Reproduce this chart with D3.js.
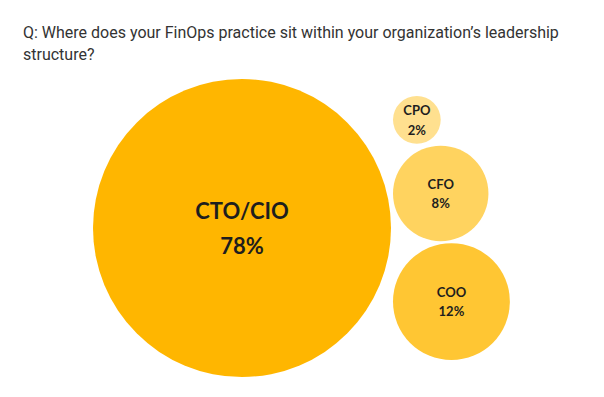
<!DOCTYPE html>
<html>
<head>
<meta charset="utf-8">
<script src="https://cdn.jsdelivr.net/npm/d3@7"></script>
<style>
	body { margin: 0; background: #fff; }
	.title { font-family: Roboto, "Open Sans", sans-serif; font-size: 16px; fill: #333; }
	.label { font-family: Lato, "Noto Sans", sans-serif; font-weight: bold; fill: #1e1e1e; }
</style>
</head>
<body>
<div id="chart"></div>
<script>
var titleLines = ["Q: Where does your FinOps practice sit within your organization\u2019s leadership", "structure?"];
var roles = ["CTO/CIO", "CPO", "CFO", "COO"];
var shares = [78, 2, 8, 12];
var fills = ["#ffb600", "#ffe08f", "#ffd35f", "#ffc633"];

var width = 604;
var height = 397;

var svg = d3.select("#chart")
	.append("svg")
	.attr("width", width)
	.attr("height", height);

svg.append("text")
	.attr("class", "title")
	.attr("x", 23)
	.attr("y", 38)
	.selectAll("tspan")
	.data(titleLines)
	.enter()
	.append("tspan")
	.attr("x", 23)
	.attr("dy", function(d, i) { return i ? 22 : 0; })
	.text(function(d) { return d; });

var rscale = d3.scaleSqrt()
	.domain([0, 78])
	.range([0, 149]);

var gap = 2;
var bigX = 242, bigY = 228;

var nodes = roles.map(function(r, i) {
	return { role: r, value: shares[i], color: fills[i], r: rscale(shares[i]) };
});

// big one on the left, the rest stacked in a column next to it
var big = nodes[0];
big.x = bigX;
big.y = bigY;
var rest = nodes.slice(1);
var stackH = d3.sum(rest, function(d) { return 2 * d.r; }) + gap * (rest.length - 1);
var y0 = bigY - stackH / 2;
rest.forEach(function(d) {
	d.x = big.x + big.r + gap + d.r;
	d.y = y0 + d.r;
	y0 += 2 * d.r + gap;
});

var g = svg.selectAll(".bubble")
	.data(nodes)
	.enter()
	.append("g")
	.attr("class", "bubble")
	.attr("transform", function(d) { return "translate(" + d.x + "," + d.y + ")"; });

g.append("circle")
	.attr("r", function(d) { return d.r; })
	.attr("fill", function(d) { return d.color; });

g.append("text")
	.attr("class", "label")
	.attr("text-anchor", "middle")
	.style("font-size", function(d, i) { return i ? "13px" : "22px"; })
	.selectAll("tspan")
	.data(function(d, i) {
		var s = i ? 19.5 : 34.5;
		return [{ t: d.role, dy: -s / 2 }, { t: d.value + "%", dy: s / 2 }];
	})
	.enter()
	.append("tspan")
	.attr("x", 0)
	.attr("y", function(d) { return d.dy; })
	.attr("dominant-baseline", "central")
	.text(function(d) { return d.t; });
</script>
</body>
</html>
